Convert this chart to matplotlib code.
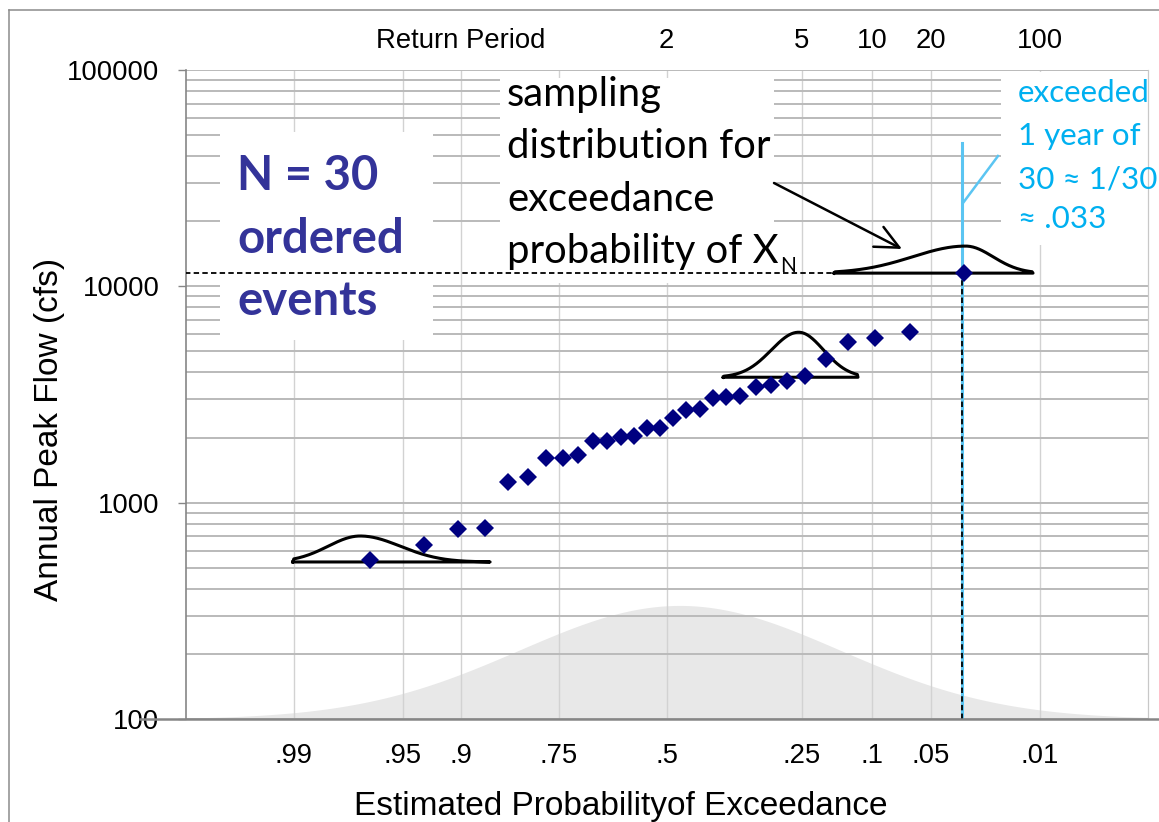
import numpy as np
import matplotlib
matplotlib.use("Agg")
import matplotlib.pyplot as plt
from matplotlib.lines import Line2D
from matplotlib.patches import Rectangle
from matplotlib.ticker import LogLocator, NullFormatter, FixedLocator
from statistics import NormalDist

W, H, DPI = 1159, 822, 100

# ---------------- data ----------------
exceed_prob = [0.968, 0.935, 0.903, 0.871, 0.839, 0.806, 0.774, 0.742, 0.710, 0.677,
               0.645, 0.613, 0.581, 0.548, 0.516, 0.484, 0.452, 0.419, 0.387, 0.355,
               0.323, 0.290, 0.258, 0.226, 0.194, 0.161, 0.129, 0.097, 0.065, 0.032]
peak_flow = [543, 637, 755, 763, 1250, 1318, 1614, 1614, 1661, 1935,
             1935, 2006, 2033, 2206, 2206, 2472, 2684, 2704, 3041, 3093,
             3113, 3436, 3497, 3662, 3865, 4601, 5550, 5754, 6135, 11510]
x_tick_pos = [0.99, 0.95, 0.9, 0.75, 0.5, 0.2, 0.1, 0.05, 0.01]
x_tick_labels = [".99", ".95", ".9", ".75", ".5", ".25", ".1", ".05", ".01"]
return_periods = [2, 5, 10, 20, 100]
y_ticks = [100, 1000, 10000, 100000]
y_tick_labels = ["100", "1000", "10000", "100000"]
exceed_line_prob = 0.033

# sampling-distribution sketches: centre (exceedance prob), baseline flow,
# peak height (decades), left/right spread and extent (normal z units)
curve_center_prob = [0.972, 0.2055, 0.0312]
curve_base_flow = [532, 3800, 11510]
curve_peak = [0.12, 0.208, 0.125]
curve_sig_left = [0.20, 0.17, 0.33]
curve_sig_right = [0.25, 0.155, 0.17]
curve_ext_left = [0.42, 0.47, 0.82]
curve_ext_right = [0.81, 0.37, 0.42]

# --------------- helpers ---------------
_nd = NormalDist()


def _fwd(p):
    p = np.asarray(p, dtype=float)
    out = np.full(p.shape, np.nan)
    flat_in = p.ravel()
    flat_out = out.ravel()
    for i, v in enumerate(flat_in):
        if np.isfinite(v):
            v = min(max(v, 1e-12), 1 - 1e-12)
            flat_out[i] = _nd.inv_cdf(v)
    return flat_out.reshape(p.shape)


def _inv(z):
    z = np.asarray(z, dtype=float)
    out = np.full(z.shape, np.nan)
    flat_in = z.ravel()
    flat_out = out.ravel()
    for i, v in enumerate(flat_in):
        if np.isfinite(v):
            flat_out[i] = _nd.cdf(v)
    return flat_out.reshape(z.shape)


def z_of(p):  # position to the right (positive for rare events)
    return -_nd.inv_cdf(p)


def p_of(z):
    return _nd.cdf(-z)


def fx(x):
    return x / W


def fy(y):
    return 1 - y / H


AR = ["Liberation Sans", "DejaVu Sans"]
CAL = ["Lato", "DejaVu Sans"]

fig = plt.figure(figsize=(W / DPI, H / DPI), dpi=DPI)
ax = fig.add_axes([185.5 / W, 1 - 719 / H, (1148 - 185.5) / W, (719 - 70) / H])

ax.set_xscale("function", functions=(_fwd, _inv))
ax.set_yscale("log")
xl = (p_of(-3.0), p_of(3.0))
ax.set_xlim(xl[0], xl[1])
ax.set_ylim(100, 100000)
ax.set_axisbelow(True)

# gridlines
ax.yaxis.set_major_locator(FixedLocator(y_ticks))
ax.set_yticklabels(y_tick_labels)
ax.yaxis.set_minor_locator(LogLocator(base=10, subs=[2, 3, 4, 5, 6, 7, 8, 9]))
ax.yaxis.set_minor_formatter(NullFormatter())
ax.grid(which="both", axis="y", color="#bababa", lw=1.4)
ax.set_xticks(x_tick_pos)
ax.set_xticklabels(x_tick_labels)
ax.xaxis.set_minor_locator(FixedLocator([]))
ax.grid(which="major", axis="x", color="#d2d2d2", lw=1.0)

ax.tick_params(axis="x", which="both", length=0, pad=31.7, labelsize=19.8)
ax.tick_params(axis="y", which="major", length=5.8, width=1.0, color="#868686",
               pad=13, labelsize=19.8)
ax.tick_params(axis="y", which="minor", length=0)
for lbl in ax.get_xticklabels() + ax.get_yticklabels():
    lbl.set_fontfamily(AR)
for lbl in ax.get_xticklabels():
    lbl.set_va("baseline")

for s in ["top", "bottom"]:
    ax.spines[s].set_visible(False)
ax.spines["left"].set_color("#868686")
ax.spines["left"].set_linewidth(1.2)
ax.spines["right"].set_color("#c8c8c8")
ax.spines["right"].set_linewidth(0.9)
ax.add_line(Line2D([(140 - 185.5) / 962.5, (1159 - 185.5) / 962.5], [0, 0],
                   transform=ax.transAxes, color="#868686", lw=1.8,
                   clip_on=False, zorder=5))

# gray background bell curve
zz = np.linspace(-3, 3, 400)
ax.fill_between([p_of(v) for v in zz], 0,
                0.175 * np.exp(-(zz - 0.08) ** 2 / 2),
                transform=ax.get_xaxis_transform(), color="#e8e8e8",
                lw=0, zorder=0.2)

# white boxes behind annotations
for (x0, y0, x1, y1) in [(220, 132, 433, 340), (500, 78, 774, 283), (1001, 72, 1159, 245)]:
    ax.add_patch(Rectangle((fx(x0), fy(y1)), (x1 - x0) / W, (y1 - y0) / H,
                           transform=fig.transFigure, facecolor="white",
                           edgecolor="none", zorder=1, clip_on=False))

# axes labels
ax.set_xlabel("Estimated Probabilityof Exceedance", fontsize=24, family=AR)
ax.xaxis.set_label_coords((621 - 185.5) / 962.5, (719 - 815) / 649)
ax.xaxis.label.set_va("baseline")
ax.set_ylabel("Annual Peak Flow (cfs)", fontsize=24, family=AR)
ax.yaxis.set_label_coords((58 - 185.5) / 962.5, (719 - 429) / 649)
ax.yaxis.label.set_va("baseline")

# return period labels on top
ytop = 1 + (70 - 48) / 649
tr = ax.get_xaxis_transform()
ax.text(0.9, ytop, "Return Period", transform=tr, ha="center", va="baseline",
        fontsize=19.8, family=AR)
for T in return_periods:
    ax.text(1.0 / T, ytop, str(T), transform=tr, ha="center", va="baseline",
            fontsize=19.8, family=AR)

# sampling-distribution sketches
curve_starts = []
for pc, base, pk, sl, sr, el, er in zip(curve_center_prob, curve_base_flow, curve_peak,
                                        curve_sig_left, curve_sig_right,
                                        curve_ext_left, curve_ext_right):
    zc = z_of(pc)
    dz = np.linspace(-el, er, 200)
    sig = np.where(dz < 0, sl, sr)
    h = pk * np.exp(-dz ** 2 / (2 * sig ** 2))
    h[0] = 0
    h[-1] = 0
    xs = [p_of(zc + d) for d in dz] + [p_of(zc - el)]
    ys = list(base * 10 ** h) + [base]
    ax.plot(xs, ys, color="black", lw=2.2, zorder=3, solid_joinstyle="round")
    curve_starts.append(p_of(zc - el))

# reference lines for largest event
ax.plot([xl[0], curve_starts[2]], [peak_flow[-1]] * 2, color="black", lw=1.3,
        ls=(0, (3.0, 1.8)), zorder=3)
ax.axvline(exceed_line_prob, ymin=0, ymax=(719 - 143) / 649, color="#5BC5F2",
           lw=2.2, zorder=2.5)
ax.plot([exceed_line_prob] * 2, [100, peak_flow[-1]], color="black", lw=1.3,
        ls=(0, (3.0, 1.8)), zorder=3.5)

# data points
ax.plot(exceed_prob, peak_flow, "D", color="#000080", ms=8.7, mew=0, zorder=4)

# blue leader
fig.add_artist(Line2D([fx(963), fx(998)], [fy(203), fy(156)], color="#5BC5F2", lw=1.8))

# arrow
ax.annotate("", xy=(fx(902), fy(249)), xycoords="figure fraction",
            xytext=(fx(774), fy(183)), textcoords="figure fraction",
            arrowprops=dict(arrowstyle="->,head_length=0.85,head_width=0.4",
                            lw=1.8, color="black", mutation_scale=20,
                            shrinkA=0, shrinkB=0), zorder=6)

# annotation texts
for txt, yb in zip(["N = 30", "ordered", "events"], [190, 253, 315]):
    fig.text(fx(237), fy(yb), txt, fontsize=34, fontweight="bold", color="#333399",
             family=CAL, ha="left", va="baseline")

samp_lines = ["sampling", "distribution for", "exceedance", "probability of X"]
samp_base = [106, 158, 211, 263]
last = None
for txt, yb in zip(samp_lines, samp_base):
    last = fig.text(fx(507), fy(yb), txt, fontsize=28.8, color="black",
                    family=CAL, ha="left", va="baseline")
fig.canvas.draw()
bb = last.get_window_extent(fig.canvas.get_renderer())
fig.text(bb.x1 / W + 1.5 / W, fy(272), "N", fontsize=15, color="black",
         family=CAL, ha="left", va="baseline")

for txt, yb in zip(["exceeded", "1 year of", "30 \u2248 1/30", "\u2248 .033"],
                   [102, 145, 188, 228]):
    fig.text(fx(1018), fy(yb), txt, fontsize=22.6, color="#00B0F0",
             family=CAL, ha="left", va="baseline")

# outer frame
fig.add_artist(Line2D([fx(9), fx(9)], [0, fy(10)], color="#8c8c8c", lw=1.1))
fig.add_artist(Line2D([fx(9), 1], [fy(10), fy(10)], color="#8c8c8c", lw=1.1))

fig.savefig("out.png", dpi=DPI)
